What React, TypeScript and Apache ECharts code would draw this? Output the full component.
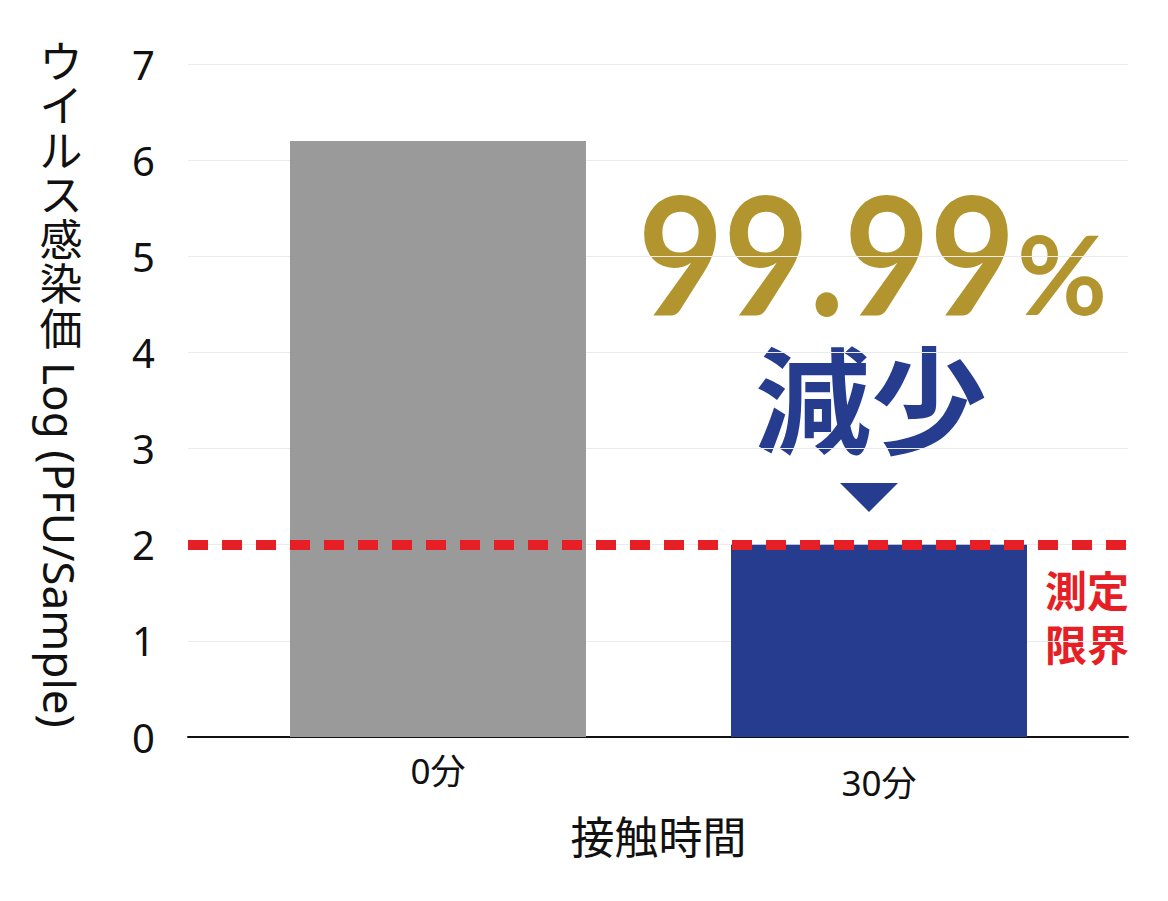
import React, { useEffect, useRef } from "react";
import * as echarts from "echarts";

const categories = ["0分", "30分"];
const values = [6.2, 2.0];
const barColors = ["#9a9a9a", "#263c8f"];
const detectionLimit = 2;
const yMin = 0;
const yMax = 7;
const yInterval = 1;
const yNameCJK = "ウ\nイ\nル\nス\n感\n染\n価";
const yNameLatin = "Log (PFU/Sample)";
const xName = "接触時間";
const reductionText = "99.99";
const percentText = "%";
const reductionWord = "減少";
const limitLabel = "測定\n限界";

const CJK = '"Noto Sans CJK JP", "Noto Sans", sans-serif';
const LAT = '"Noto Sans", "Noto Sans CJK JP", sans-serif';

export default function App() {
  const ref = useRef<HTMLDivElement>(null);
  useEffect(() => {
    if (!ref.current) return;
    const chart = echarts.init(ref.current, undefined, { renderer: "svg" });

    const graphics: any[] = [
      {
        type: "text",
        x: 61,
        y: 192,
        style: {
          text: yNameCJK,
          fontSize: 43,
          lineHeight: 44.5,
          fontFamily: CJK,
          fill: "#111",
          textAlign: "center",
          textVerticalAlign: "middle",
          align: "center",
          verticalAlign: "middle",
        },
      },
      {
        type: "text",
        x: 60,
        y: 362,
        rotation: -Math.PI / 2,
        style: {
          text: yNameLatin,
          fontSize: 44,
          fontFamily: LAT,
          fill: "#111",
          textAlign: "left",
          textVerticalAlign: "middle",
          align: "left",
          verticalAlign: "middle",
        },
      },
      {
        type: "text",
        x: 638,
        y: 252,
        scaleX: 0.9,
        style: {
          text: reductionText,
          fontSize: 164,
          fontWeight: "bold",
          fontFamily: '"Lato", "Noto Sans", sans-serif',
          fill: "#b3952f",
          textAlign: "left",
          textVerticalAlign: "middle",
          align: "left",
          verticalAlign: "middle",
        },
      },
      {
        type: "text",
        x: 1017,
        y: 272,
        style: {
          text: percentText,
          fontSize: 110,
          fontWeight: "bold",
          fontFamily: '"Lato", "Noto Sans", sans-serif',
          fill: "#b3952f",
          textAlign: "left",
          textVerticalAlign: "middle",
          align: "left",
          verticalAlign: "middle",
        },
      },
      {
        type: "text",
        x: 871,
        y: 394,
        style: {
          text: reductionWord,
          fontSize: 116,
          fontWeight: "bold",
          fontFamily: CJK,
          fill: "#263c8f",
          textAlign: "center",
          textVerticalAlign: "middle",
          align: "center",
          verticalAlign: "middle",
        },
      },
      {
        type: "polygon",
        shape: { points: [[840, 483], [898, 483], [869, 512]] },
        style: { fill: "#263c8f" },
      },
      {
        type: "text",
        x: 1129,
        y: 615,
        style: {
          text: limitLabel,
          fontSize: 42,
          lineHeight: 54,
          fontWeight: "bold",
          fontFamily: CJK,
          fill: "#e61f26",
          textAlign: "right",
          textVerticalAlign: "middle",
          align: "right",
          verticalAlign: "middle",
        },
      },
    ];

    chart.setOption({
      animation: false,
      backgroundColor: "#ffffff",
      grid: [
        { left: 188, right: 40, top: 64, bottom: 164, containLabel: false },
        { left: 217.5, right: 68.5, top: 64, bottom: 164, containLabel: false },
      ],
      xAxis: [
        {
          type: "category",
          gridIndex: 0,
          data: categories,
          axisLine: { show: true, lineStyle: { color: "#111", width: 2 } },
          axisTick: { show: false },
          axisLabel: { show: false },
        },
        {
          type: "category",
          gridIndex: 1,
          data: categories,
          name: xName,
          nameLocation: "middle",
          nameGap: 76,
          nameTextStyle: { fontSize: 44, fontFamily: CJK, color: "#111" },
          axisLine: { show: false },
          axisTick: { show: false },
          axisLabel: {
            margin: 16,
            fontFamily: CJK,
            color: "#111",
            formatter: (v: string, i: number) => (i === 0 ? `{a|${v}}` : `{b|${v}}`),
            rich: {
              a: { fontSize: 35, fontFamily: LAT, color: "#111" },
              b: { fontSize: 35, fontFamily: LAT, color: "#111", padding: [12, 0, 0, 0] },
            },
          },
        },
      ],
      yAxis: [
        {
          type: "value",
          gridIndex: 0,
          min: yMin,
          max: yMax,
          interval: yInterval,
          axisLine: { show: false },
          axisTick: { show: false },
          axisLabel: { fontSize: 40, fontFamily: LAT, color: "#111", margin: 33 },
          splitLine: { show: true, lineStyle: { color: "#ebebeb", width: 1 } },
        },
        {
          type: "value",
          gridIndex: 1,
          min: yMin,
          max: yMax,
          interval: yInterval,
          axisLine: { show: false },
          axisTick: { show: false },
          axisLabel: { show: false },
          splitLine: { show: false },
        },
      ],
      series: [
        {
          type: "bar",
          xAxisIndex: 1,
          yAxisIndex: 1,
          barWidth: 296,
          z: 2,
          data: values.map((v, i) => ({ value: v, itemStyle: { color: barColors[i] } })),
        },
        {
          type: "line",
          xAxisIndex: 0,
          yAxisIndex: 0,
          data: [],
          z: 5,
          markLine: {
            silent: true,
            symbol: "none",
            label: { show: false },
            lineStyle: { color: "#e61f26", width: 10, type: [20, 14] },
            data: [{ yAxis: detectionLimit }],
          },
        },
      ],
      graphic: graphics,
    });
    return () => chart.dispose();
  }, []);
  return (
    <div
      ref={ref}
      style={{ position: "fixed", left: 0, top: 0, width: 1168, height: 901 }}
    />
  );
}
